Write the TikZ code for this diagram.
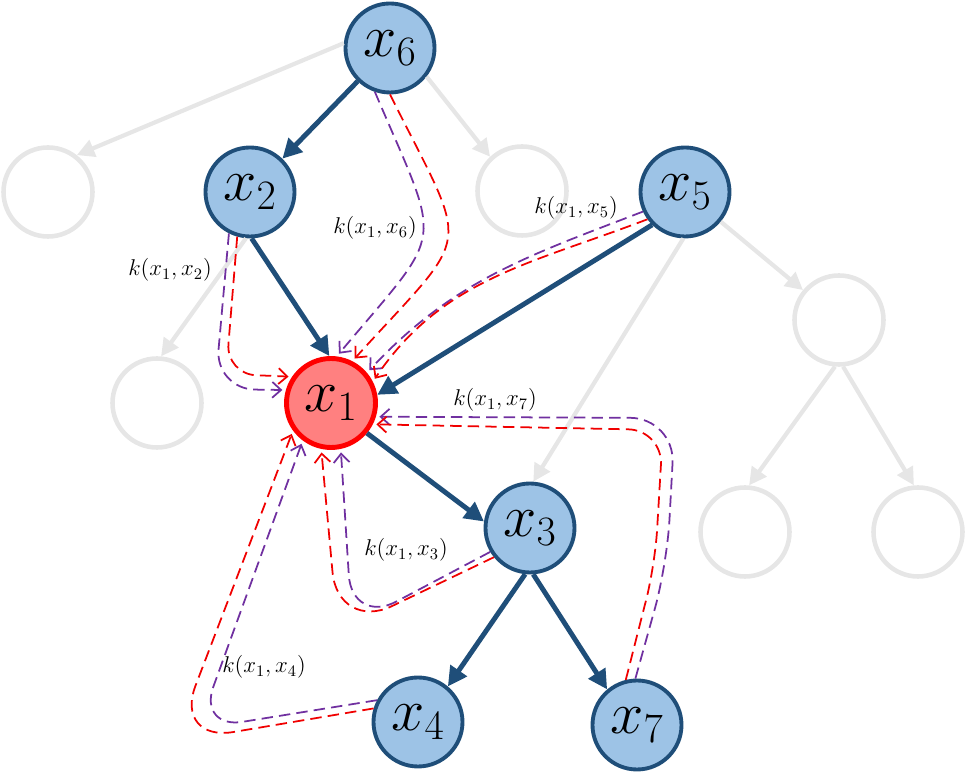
\documentclass[tikz,border=0pt]{standalone}
\usepackage{fix-cm}
\usepackage{xcolor}
\usepackage{amsmath, amssymb}
\usetikzlibrary{arrows.meta,positioning,calc}

\definecolor{nodeblue}{RGB}{157,195,230}
\definecolor{edgeblue}{RGB}{31,78,121}
\definecolor{nodered}{RGB}{255,128,128}
\definecolor{faint}{RGB}{230,230,230}
\definecolor{msgred}{RGB}{240,0,0}
\definecolor{msgpurple}{RGB}{112,48,160}

\begin{document}
\begin{tikzpicture}[>=Stealth,
    var/.style={circle, draw=edgeblue, fill=nodeblue, line width=2.2pt,
                minimum size=1.78cm, inner sep=0pt, font=\fontsize{34}{34}\selectfont},
    root/.style={var, draw=red, fill=nodered, line width=2.8pt},
    ghost/.style={circle, draw=faint, line width=2.6pt, minimum size=1.78cm},
    tree/.style={-{Triangle[length=11pt,width=11pt]}, line width=2.8pt, edgeblue},
    faded/.style={-{Triangle[length=10pt,width=10pt]}, line width=2.4pt, faint},
    msgr/.style={-{Straight Barb[length=5pt,width=9pt]}, msgred, line width=1pt,
                 dash pattern=on 6.5pt off 3.5pt, shorten >=2pt},
    msgp/.style={msgr, msgpurple},
    lbl/.style={font=\fontsize{13}{13}\selectfont}]
            \useasboundingbox (0,0) rectangle (19.34,15.48);
            % variables
            \node[var]  (x6) at (7.80,14.52) {$x_6$};
            \node[var]  (x2) at (5.00,11.64) {$x_2$};
            \node[var]  (x5) at (13.70,11.64) {$x_5$};
            \node[root] (x1) at (6.62,7.42)  {$x_1$};
            \node[var]  (x3) at (10.60,4.92) {$x_3$};
            \node[var]  (x4) at (8.36,1.04)  {$x_4$};
            \node[var]  (x7) at (12.74,0.98) {$x_7$};
            % faded part of the tree
            \node[ghost] (g1) at (0.96,11.64) {};
            \node[ghost] (g2) at (10.44,11.66) {};
            \node[ghost] (g3) at (3.14,7.42) {};
            \node[ghost] (g4) at (16.78,9.08) {};
            \node[ghost] (g5) at (14.90,4.84) {};
            \node[ghost] (g6) at (18.36,4.84) {};
            % faded edges
            \draw[faded] (x6.174) -- (g1.52);
            \draw[faded] (x6.-38) -- (g2.133);
            \draw[faded] (x2.265) -- (g3.85);
            \draw[faded] (x5.268) -- (x3.86);
            \draw[faded] (x5) -- (g4);
            \draw[faded] (g4.265) -- (g5.85);
            \draw[faded] (g4.275) -- (g6.95);
            % tree edges
            \draw[tree] (x6) -- (x2);
            \draw[tree] (x2.272) -- (x1.92);
            \draw[tree] (x5.225) -- (x1.10);
            \draw[tree] (x1.-40) -- (x3.172);
            \draw[tree] (x3.264) -- (x4.50);
            \draw[tree] (x3.-86) -- (x7.130);
            % kernel paths to x1
            \draw[msgp, rounded corners=0.8cm] (x2.243) -- (4.30,7.70) -- (x1.164);
            \draw[msgr, rounded corners=0.6cm] (x2.254) -- (4.52,8.00) -- (x1.146);
            \draw[msgp] (x6.251) .. controls (8.86,10.44) and (8.94,10.98) .. (x1.83);
            \draw[msgr] (x6.270) .. controls (9.42,10.34) and (9.50,10.96) .. (x1.63);
            \draw[msgp] (x5.205) to[out=201,in=47] (x1.40);
            \draw[msgr] (x5.216) to[out=201,in=56] (x1.27);
            \draw[msgp, rounded corners=0.9cm] (x7.92) -- (13.34,4.18) -- (13.50,7.12) -- (x1.-17);
            \draw[msgr, rounded corners=0.7cm] (x7.104) -- (13.10,4.18) -- (13.26,6.88) -- (x1.-27);
            \draw[msgp, rounded corners=1.0cm] (x3.211) -- (7.04,2.98) -- (x1.282);
            \draw[msgr, rounded corners=1.2cm] (x3.219) -- (6.76,2.84) -- (x1.258);
            \draw[msgp, rounded corners=0.9cm] (x4.152) -- (3.96,0.90) -- (x1.233);
            \draw[msgr, rounded corners=1.2cm] (x4.163) -- (3.48,0.64) -- (x1.216);
            % kernel labels
            \node[lbl] (k2) at (3.40,10.08) {$k(x_1,x_2)$};
            \node[lbl] (k6) at (7.50,10.92) {$k(x_1,x_6)$};
            \node[lbl] (k5) at (11.52,11.32) {$k(x_1,x_5)$};
            \node[lbl] (k7) at (9.90,7.48)  {$k(x_1,x_7)$};
            \node[lbl] (k3) at (8.12,4.48)  {$k(x_1,x_3)$};
            \node[lbl] (k4) at (5.28,2.14)  {$k(x_1,x_4)$};
\end{tikzpicture}
\end{document}
